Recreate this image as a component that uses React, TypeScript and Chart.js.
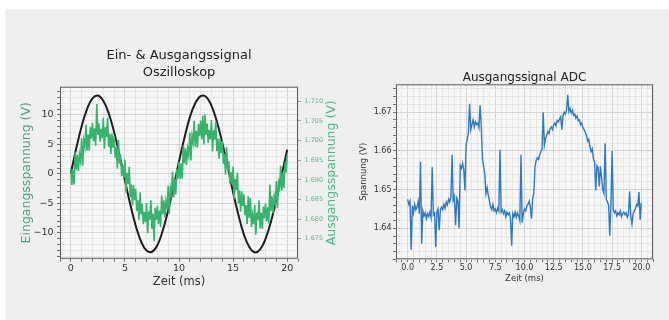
import React, { useEffect, useRef } from 'react';
import { Chart, registerables } from 'chart.js';

Chart.register(...registerables);

const FONT = '"DejaVu Sans", "Liberation Sans", sans-serif';

// ---------- Data: oscilloscope (left chart) ----------
const scopeInputStepMs = 0.5; // sample spacing of input trace
const scopeOutputStepMs = 0.1; // sample spacing of output trace

// Eingangsspannung (V), t = 0 … 20 ms
const inputVoltage = [
  0.1, 4.3, 8.1, 11.0, 12.8, 13.3, 12.4, 10.3, 7.1, 3.2,
  -1.1, -5.2, -8.8, -11.5, -13.0, -13.2, -12.1, -9.6, -6.2, -2.2,
  2.1, 6.1, 9.6, 12.0, 13.2, 13.1, 11.6, 8.9, 5.3, 1.2,
  -3.1, -7.0, -10.3, -12.4, -13.3, -12.8, -11.0, -8.1, -4.3, -0.1,
  4.1,
];

// Ausgangsspannung (V) of the oscilloscope, t = 0 … 20 ms
const outputVoltageScope = [
  1.6928, 1.6887, 1.6925, 1.6888, 1.6970, 1.6926, 1.6964, 1.6922, 1.6965, 1.6948,
  1.7006, 1.6936, 1.7000, 1.6984, 1.7040, 1.6974, 1.7016, 1.6974, 1.7034, 1.7005,
  1.7045, 1.6998, 1.7031, 1.6987, 1.7093, 1.7014, 1.7044, 1.6997, 1.7030, 1.7006,
  1.7058, 1.6979, 1.7034, 1.7009, 1.7058, 1.6984, 1.7017, 1.6966, 1.7018, 1.6982,
  1.7012, 1.6956, 1.6982, 1.6929, 1.7001, 1.6941, 1.6965, 1.6909, 1.6936, 1.6906,
  1.6951, 1.6868, 1.6918, 1.6889, 1.6933, 1.6855, 1.6888, 1.6835, 1.6886, 1.6848,
  1.6877, 1.6821, 1.6848, 1.6798, 1.6868, 1.6812, 1.6839, 1.6787, 1.6818, 1.6792,
  1.6841, 1.6764, 1.6820, 1.6798, 1.6848, 1.6775, 1.6814, 1.6744, 1.6829, 1.6798,
  1.6834, 1.6787, 1.6822, 1.6780, 1.6860, 1.6812, 1.6848, 1.6805, 1.6845, 1.6826,
  1.6885, 1.6814, 1.6879, 1.6864, 1.6921, 1.6856, 1.6902, 1.6863, 1.6927, 1.6902,
  1.6946, 1.6902, 1.6942, 1.6903, 1.6988, 1.6942, 1.6980, 1.6937, 1.6979, 1.6962,
  1.7020, 1.6949, 1.7011, 1.6995, 1.7050, 1.6984, 1.7025, 1.6982, 1.7042, 1.7012,
  1.7051, 1.7003, 1.7063, 1.6990, 1.7066, 1.7014, 1.7043, 1.6994, 1.7027, 1.7003,
  1.7052, 1.6972, 1.7026, 1.7002, 1.7048, 1.6973, 1.7005, 1.6954, 1.7005, 1.6968,
  1.6999, 1.6941, 1.6966, 1.6913, 1.6983, 1.6924, 1.6948, 1.6891, 1.6920, 1.6888,
  1.6934, 1.6851, 1.6902, 1.6874, 1.6918, 1.6840, 1.6873, 1.6819, 1.6871, 1.6833,
  1.6863, 1.6810, 1.6836, 1.6787, 1.6858, 1.6803, 1.6854, 1.6780, 1.6811, 1.6787,
  1.6836, 1.6760, 1.6817, 1.6797, 1.6848, 1.6776, 1.6816, 1.6775, 1.6832, 1.6803,
  1.6840, 1.6794, 1.6830, 1.6789, 1.6888, 1.6821, 1.6858, 1.6815, 1.6857, 1.6840,
  1.6897, 1.6828, 1.6892, 1.6879, 1.6936, 1.6872, 1.6918, 1.6879, 1.6943, 1.6919,
  1.6963,
];

// ---------- Data: ADC (right chart) ----------
const adcStepMs = 0.1;
const adcVoltage = [
  1.6475, 1.6462, 1.6470, 1.6345, 1.6458, 1.6440, 1.6462, 1.6448, 1.6455, 1.6470,
  1.6438, 1.6572, 1.6360, 1.6445, 1.6432, 1.6440, 1.6425, 1.6438, 1.6430, 1.6442,
  1.6428, 1.6558, 1.6435, 1.6440, 1.6352, 1.6442, 1.6450, 1.6395, 1.6448, 1.6455,
  1.6448, 1.6462, 1.6452, 1.6468, 1.6460, 1.6475, 1.6468, 1.6480, 1.6590, 1.6472,
  1.6482, 1.6408, 1.6478, 1.6470, 1.6400, 1.6562, 1.6555, 1.6568, 1.6552, 1.6498,
  1.6615, 1.6630, 1.6648, 1.6722, 1.6655, 1.6668, 1.6680, 1.6662, 1.6675, 1.6668,
  1.6672, 1.6660, 1.6718, 1.6665, 1.6578, 1.6560, 1.6540, 1.6490, 1.6505, 1.6485,
  1.6470, 1.6455, 1.6448, 1.6462, 1.6445, 1.6450, 1.6440, 1.6452, 1.6445, 1.6603,
  1.6442, 1.6448, 1.6438, 1.6445, 1.6430, 1.6442, 1.6435, 1.6440, 1.6428, 1.6355,
  1.6438, 1.6430, 1.6442, 1.6428, 1.6440, 1.6432, 1.6420, 1.6590, 1.6415, 1.6438,
  1.6450, 1.6445, 1.6458, 1.6462, 1.6470, 1.6455, 1.6425, 1.6478, 1.6490, 1.6560,
  1.6575, 1.6582, 1.6578, 1.6590, 1.6598, 1.6605, 1.6700, 1.6615, 1.6632, 1.6640,
  1.6650, 1.6645, 1.6658, 1.6662, 1.6655, 1.6668, 1.6672, 1.6665, 1.6678, 1.6675,
  1.6682, 1.6688, 1.6655, 1.6692, 1.6700, 1.6695, 1.6705, 1.6745, 1.6702, 1.6710,
  1.6698, 1.6705, 1.6692, 1.6695, 1.6685, 1.6690, 1.6678, 1.6680, 1.6668, 1.6672,
  1.6660, 1.6655, 1.6648, 1.6640, 1.6625, 1.6630, 1.6612, 1.6598, 1.6605, 1.6580,
  1.6570, 1.6498, 1.6562, 1.6558, 1.6508, 1.6560, 1.6530, 1.6500, 1.6490, 1.6620,
  1.6475, 1.6468, 1.6460, 1.6381, 1.6462, 1.6600, 1.6448, 1.6440, 1.6445, 1.6432,
  1.6440, 1.6435, 1.6445, 1.6430, 1.6438, 1.6442, 1.6435, 1.6440, 1.6428, 1.6436,
  1.6495, 1.6430, 1.6411, 1.6438, 1.6445, 1.6450, 1.6462, 1.6458, 1.6494, 1.6422,
  1.6465,
];

// ---------- Tick labels ----------
const scopeTimeLabels = [0, 5, 10, 15, 20];
const scopeInputLabels = [-10, -5, 0, 5, 10];
const scopeOutputLabels = [1.675, 1.68, 1.685, 1.69, 1.695, 1.7, 1.705, 1.71];
const adcTimeLabels = [0, 2.5, 5, 7.5, 10, 12.5, 15, 17.5, 20];
const adcVoltLabels = [1.64, 1.65, 1.66, 1.67];

// ---------- helpers ----------
function tickRange(start: number, end: number, step: number, decimals: number): number[] {
  const n = Math.round((end - start) / step);
  const out: number[] = [];
  for (let i = 0; i <= n; i++) out.push(+(start + i * step).toFixed(decimals));
  return out;
}
const near = (a: number, b: number) => Math.abs(a - b) < 1e-9;
const inList = (list: number[], v: number) => list.some((x) => near(x, v));

const MAJOR_GRID = '#cacaca';
const MINOR_GRID = '#e2e2e2';
const PLOT_BG = '#f7f7f7';
const TEXT = '#333333';
const GREEN = '#38b36c';

const plotFrame = {
  id: 'plotFrame',
  beforeDraw(chart: any) {
    const { ctx, chartArea: a } = chart;
    ctx.save();
    ctx.fillStyle = PLOT_BG;
    ctx.fillRect(a.left, a.top, a.right - a.left, a.bottom - a.top);
    ctx.restore();
  },
  afterDraw(chart: any) {
    const { ctx, chartArea: a } = chart;
    ctx.save();
    ctx.strokeStyle = '#5a5a5a';
    ctx.lineWidth = 1;
    ctx.strokeRect(a.left + 0.5, a.top + 0.5, a.right - a.left - 1, a.bottom - a.top - 1);
    ctx.restore();
  },
};

const rightAxisTitle = {
  id: 'rightAxisTitle',
  afterDraw(chart: any, _args: any, opts: any) {
    const { ctx, chartArea: a } = chart;
    ctx.save();
    ctx.translate(a.right + opts.offset, (a.top + a.bottom) / 2);
    ctx.rotate(-Math.PI / 2);
    ctx.textAlign = 'center';
    ctx.textBaseline = 'middle';
    ctx.font = `${opts.size}px ${FONT}`;
    ctx.fillStyle = opts.color;
    ctx.fillText(opts.text, 0, 0);
    ctx.restore();
  },
};

function gridOpts(majors: number[]) {
  return {
    color: (c: any) => (c.tick && inList(majors, c.tick.value) ? MAJOR_GRID : MINOR_GRID),
    lineWidth: 0.8,
    drawTicks: true,
    tickLength: 3,
    tickColor: '#555555',
    tickWidth: 0.8,
  };
}

function ScopeChart() {
  const ref = useRef<HTMLCanvasElement | null>(null);
  useEffect(() => {
    if (!ref.current) return;
    const inputPts = inputVoltage.map((v, i) => ({ x: i * scopeInputStepMs, y: v }));
    const outputPts = outputVoltageScope.map((v, i) => ({ x: +(i * scopeOutputStepMs).toFixed(2), y: v }));
    const xTicks = tickRange(-1, 21, 1, 0);
    const yTicks = tickRange(-14, 14, 1, 0);
    const chart = new Chart(ref.current, {
      type: 'line',
      data: {
        datasets: [
          {
            label: 'Ausgangsspannung',
            data: outputPts,
            yAxisID: 'y2',
            borderColor: GREEN,
            borderWidth: 1.6,
            pointRadius: 0,
            tension: 0,
            order: 0,
          },
          {
            label: 'Eingangsspannung',
            data: inputPts,
            yAxisID: 'y',
            borderColor: '#1e1e1e',
            borderWidth: 2,
            pointRadius: 0,
            tension: 0.4,
            order: 1,
          },
        ],
      },
      options: {
        responsive: false,
        animation: false,
        events: [],
        layout: { padding: 0 },
        plugins: {
          legend: { display: false },
          tooltip: { enabled: false },
          title: {
            display: true,
            fullSize: false,
            text: ['Ein- & Ausgangssignal', 'Oszilloskop'],
            color: '#222222',
            font: { family: FONT, size: 13, weight: 'normal', lineHeight: 17 / 13 },
            padding: { top: 47, bottom: 5.7 },
          },
          rightAxisTitle: { text: 'Ausgangsspannung (V)', color: '#4dba82', size: 12.5, offset: 33.7 },
        } as any,
        scales: {
          x: {
            type: 'linear',
            min: -1,
            max: 21,
            afterBuildTicks: (s: any) => { s.ticks = xTicks.map((v) => ({ value: v })); },
            afterFit: (s: any) => { s.height = 61.2; },
            ticks: {
              autoSkip: false,
              maxRotation: 0,
              padding: 0.8,
              color: TEXT,
              font: { family: FONT, size: 9.5 },
              callback: (v: any) => (inList(scopeTimeLabels, v) ? String(v) : ''),
            },
            grid: gridOpts(scopeTimeLabels),
            border: { display: false },
            title: {
              display: true,
              text: 'Zeit (ms)',
              color: TEXT,
              font: { family: FONT, size: 11.5 },
              padding: { top: 0, bottom: 31.4 },
            },
          },
          y: {
            type: 'linear',
            position: 'left',
            min: -14.4,
            max: 14.8,
            afterBuildTicks: (s: any) => { s.ticks = yTicks.map((v) => ({ value: v })); },
            afterFit: (s: any) => { s.width = 60; },
            ticks: {
              autoSkip: false,
              padding: 3.5,
              color: TEXT,
              font: { family: FONT, size: 9.5 },
              callback: (v: any) => (inList(scopeInputLabels, v) ? (v < 0 ? '\u2212' + Math.abs(v) : String(v)) : ''),
            },
            grid: gridOpts(scopeInputLabels),
            border: { display: false },
            title: {
              display: true,
              text: 'Eingangsspannung (V)',
              color: '#4f9f77',
              font: { family: FONT, size: 12.5 },
              padding: { top: 19.5, bottom: 0 },
            },
          },
          y2: {
            type: 'linear',
            position: 'right',
            min: 1.6699,
            max: 1.7137,
            afterBuildTicks: (s: any) => { s.ticks = scopeOutputLabels.map((v) => ({ value: v })); },
            afterFit: (s: any) => { s.width = 47; },
            ticks: {
              autoSkip: false,
              padding: 3.5,
              color: '#5cba8a',
              font: { family: FONT, size: 6.5 },
              callback: (v: any) => Number(v).toFixed(3),
            },
            grid: { drawOnChartArea: false, drawTicks: true, tickLength: 3, tickColor: '#6a9f84', tickWidth: 0.8 },
            border: { display: false },
          },
        },
      } as any,
      plugins: [plotFrame, rightAxisTitle],
    });
    return () => chart.destroy();
  }, []);
  return <canvas ref={ref} width={345} height={320} style={{ position: 'absolute', left: 0, top: 0, width: 345, height: 320 }} />;
}

function AdcChart() {
  const ref = useRef<HTMLCanvasElement | null>(null);
  useEffect(() => {
    if (!ref.current) return;
    const pts = adcVoltage.map((v, i) => ({ x: +(i * adcStepMs).toFixed(2), y: v }));
    const xTicks = tickRange(-1, 21, 0.5, 1);
    const yTicks = tickRange(1.632, 1.676, 0.002, 3);
    const chart = new Chart(ref.current, {
      type: 'line',
      data: {
        datasets: [
          {
            label: 'ADC',
            data: pts,
            borderColor: '#3079bd',
            borderWidth: 1.4,
            pointRadius: 0,
            tension: 0,
          },
        ],
      },
      options: {
        responsive: false,
        animation: false,
        events: [],
        layout: { padding: { left: 0, right: 16, top: 0, bottom: 0 } },
        plugins: {
          legend: { display: false },
          tooltip: { enabled: false },
          title: {
            display: true,
            fullSize: false,
            text: 'Ausgangssignal ADC',
            color: '#222222',
            font: { family: FONT, size: 12, weight: 'normal', lineHeight: 1 },
            padding: { top: 71.5, bottom: 0.8 },
          },
        },
        scales: {
          x: {
            type: 'linear',
            min: -1,
            max: 21,
            afterBuildTicks: (s: any) => { s.ticks = xTicks.map((v) => ({ value: v })); },
            afterFit: (s: any) => { s.height = 60.7; },
            ticks: {
              autoSkip: false,
              maxRotation: 0,
              padding: 0.9,
              color: TEXT,
              font: { family: FONT, size: 8 },
              callback: (v: any) => (inList(adcTimeLabels, v) ? Number(v).toFixed(1) : ''),
            },
            grid: gridOpts(adcTimeLabels),
            border: { display: false },
            title: {
              display: true,
              text: 'Zeit (ms)',
              color: TEXT,
              font: { family: FONT, size: 8.5 },
              padding: { top: 0, bottom: 35.9 },
            },
          },
          y: {
            type: 'linear',
            min: 1.632,
            max: 1.6772,
            afterBuildTicks: (s: any) => { s.ticks = yTicks.map((v) => ({ value: v })); },
            afterFit: (s: any) => { s.width = 51; },
            ticks: {
              autoSkip: false,
              padding: 1.5,
              color: TEXT,
              font: { family: FONT, size: 8 },
              callback: (v: any) => (inList(adcVoltLabels, v) ? Number(v).toFixed(2) : ''),
            },
            grid: gridOpts(adcVoltLabels),
            border: { display: false },
            title: {
              display: true,
              text: 'Spannung (V)',
              color: TEXT,
              font: { family: FONT, size: 8.5 },
              padding: { top: 13.9, bottom: 0 },
            },
          },
        },
      } as any,
      plugins: [plotFrame],
    });
    return () => chart.destroy();
  }, []);
  return <canvas ref={ref} width={324} height={320} style={{ position: 'absolute', left: 345, top: 0, width: 324, height: 320 }} />;
}

export default function App() {
  return (
    <div style={{ position: 'fixed', left: 0, top: 0, width: 669, height: 320, background: '#ffffff', overflow: 'hidden' }}>
      <div style={{ position: 'absolute', left: 5, top: 9, right: 0, bottom: 0, background: '#efefef' }} />
      <ScopeChart />
      <AdcChart />
    </div>
  );
}
